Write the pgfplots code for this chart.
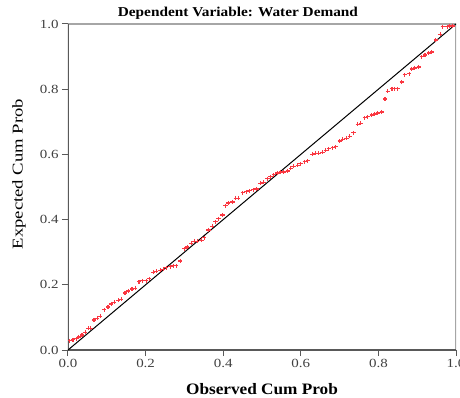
\documentclass[border=0pt]{standalone}
\usepackage{fontspec}
\setmainfont{Liberation Serif}[FakeStretch=1.2]
\newfontfamily\titlefont{Liberation Serif}[FakeStretch=1.13]
\newfontfamily\xlabfont{Liberation Serif}[FakeStretch=1.08]
\newfontfamily\ylabfont{Liberation Serif}[FakeStretch=1.25]
\usepackage{pgfplots}
\pgfplotsset{compat=1.18}
\definecolor{ptred}{RGB}{250,55,65}
\begin{document}
\begin{tikzpicture}
\begin{axis}[
  scale only axis, width=388bp, height=326bp,
  xmin=0, xmax=1, ymin=0, ymax=1,
  axis line style={draw=none},
  xtick={0,0.2,0.4,0.6,0.8,1}, ytick={0,0.2,0.4,0.6,0.8,1},
  tick pos=left, tick align=outside,
  major tick length=6bp,
  tick style={black!65, line width=1bp},
  /pgf/number format/.cd, fixed, fixed zerofill, precision=1, assume math mode=true,
  /pgfplots/.cd,
  ticklabel style={font=\fontsize{12.5}{14}\selectfont, text=black!75},
  xlabel={\bfseries Observed Cum Prob},
  xlabel style={at={(axis description cs:0.5,-0.12)}, anchor=center, font=\xlabfont\fontsize{16}{18}\selectfont},
  ylabel={\mdseries Expected Cum Prob},
  ylabel style={at={(axis description cs:-0.126,0.54)}, anchor=center, font=\ylabfont\mdseries\fontsize{15}{18}\selectfont},
  every axis title shift=0pt,
  title={\bfseries Dependent Variable: Water Demand},
  title style={at={(axis description cs:0.438,1.0215)}, anchor=base, font=\titlefont\fontsize{13.6}{16}\selectfont},
]
\coordinate (bl) at (rel axis cs:0,0);
\coordinate (tr) at (rel axis cs:1,1);
\draw[black!35, line width=1.2bp] (rel axis cs:0,1) -- (rel axis cs:1,1) -- (rel axis cs:1,0);
\draw[black!65, line width=1.2bp] (rel axis cs:0,1) -- (rel axis cs:0,0) -- (rel axis cs:1,0);
\addplot[black, line width=1bp] coordinates {(0,0) (1,1)};
\addplot[only marks, mark=+, mark size=2.1bp, color=ptred, mark options={draw=ptred, line width=1.1bp}] coordinates {
(0.005,0.028) (0.013,0.031) (0.021,0.034) (0.028,0.040) (0.036,0.046) (0.044,0.055)
(0.052,0.067) (0.059,0.067) (0.067,0.092) (0.075,0.098) (0.083,0.104) (0.093,0.123)
(0.103,0.132) (0.111,0.141) (0.119,0.147) (0.129,0.153) (0.137,0.156) (0.147,0.175)
(0.155,0.181) (0.165,0.187) (0.173,0.190) (0.183,0.209) (0.191,0.212) (0.202,0.212)
(0.209,0.218) (0.220,0.239) (0.227,0.242) (0.238,0.245) (0.245,0.248) (0.253,0.252)
(0.264,0.255) (0.271,0.258) (0.279,0.258) (0.289,0.273) (0.300,0.310) (0.307,0.316)
(0.318,0.328) (0.326,0.334) (0.333,0.334) (0.344,0.337) (0.351,0.344) (0.362,0.368)
(0.372,0.380) (0.380,0.393) (0.388,0.402) (0.398,0.414) (0.406,0.442) (0.413,0.451)
(0.424,0.454) (0.432,0.466) (0.439,0.466) (0.450,0.482) (0.460,0.485) (0.468,0.488)
(0.478,0.491) (0.486,0.494) (0.496,0.512) (0.504,0.515) (0.514,0.525) (0.522,0.531)
(0.530,0.537) (0.540,0.543) (0.548,0.546) (0.556,0.546) (0.566,0.549) (0.574,0.558)
(0.581,0.564) (0.592,0.567) (0.599,0.571) (0.610,0.577) (0.618,0.580) (0.630,0.601)
(0.638,0.604) (0.646,0.604) (0.656,0.607) (0.664,0.613) (0.672,0.617) (0.682,0.620)
(0.690,0.623) (0.700,0.641) (0.708,0.647) (0.718,0.650) (0.726,0.656) (0.736,0.666)
(0.747,0.693) (0.755,0.696) (0.765,0.712) (0.773,0.715) (0.783,0.721) (0.791,0.724)
(0.798,0.727) (0.809,0.730) (0.817,0.770) (0.824,0.794) (0.835,0.801) (0.842,0.801)
(0.850,0.801) (0.860,0.822) (0.868,0.844) (0.879,0.847) (0.886,0.862) (0.894,0.865)
(0.904,0.868) (0.912,0.899) (0.920,0.905) (0.930,0.911) (0.938,0.914) (0.948,0.951)
(0.959,0.969) (0.966,0.991) (0.977,0.991) (0.984,0.994) (0.992,0.994)
};
\end{axis}
\pgfresetboundingbox
\path[use as bounding box] ([xshift=-68bp,yshift=-48bp]bl) rectangle ([xshift=4bp,yshift=24bp]tr);
\end{tikzpicture}
\end{document}
